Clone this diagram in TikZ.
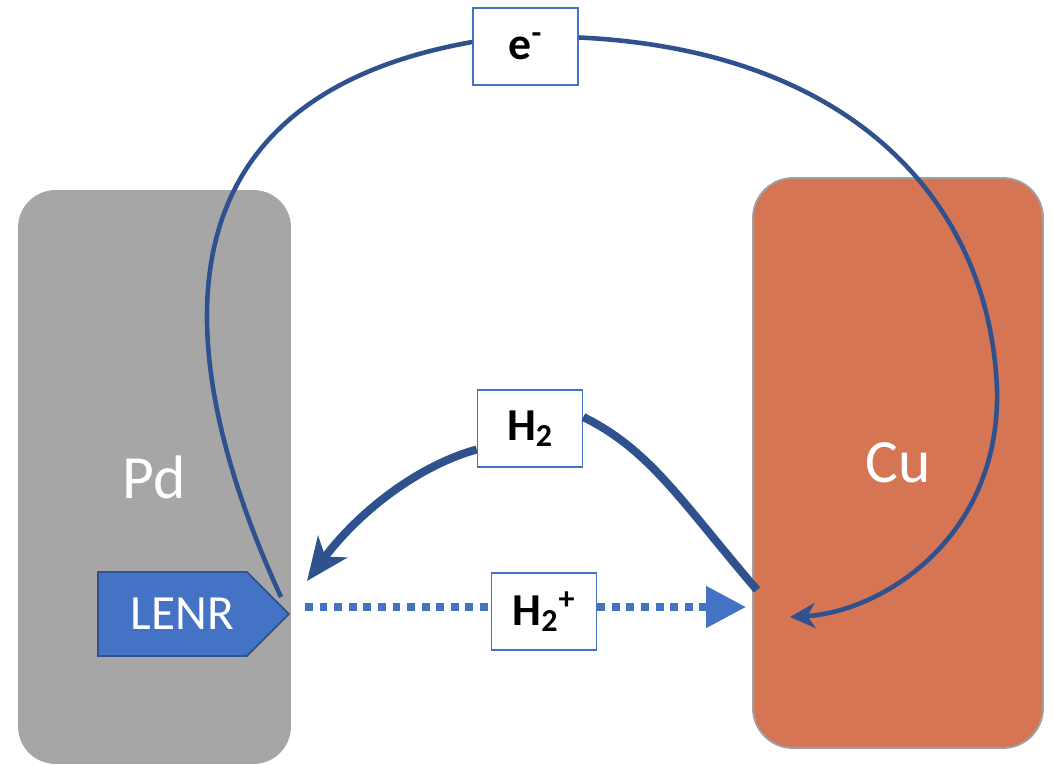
\documentclass[tikz,border=0pt]{standalone}
\usepackage{fontspec}
\setmainfont{Carlito}
\usetikzlibrary{arrows.meta,shapes.symbols}
\definecolor{pdgray}{RGB}{166,166,166}
\definecolor{cuorange}{RGB}{213,117,84}
\definecolor{cuedge}{RGB}{160,160,160}
\definecolor{lenrblue}{RGB}{68,114,196}
\definecolor{wireblue}{RGB}{47,82,143}

\begin{document}
\begin{tikzpicture}[x=0.02cm,y=-0.02cm,
  metal/.style={rounded corners=0.75cm,inner sep=0pt,text=white,
    font=\fontsize{35}{40}\selectfont},
  tag/.style={draw=lenrblue,fill=white,line width=0.9pt,inner sep=0pt,
    minimum width=2.1cm,minimum height=1.54cm,font=\bfseries\fontsize{26}{30}\selectfont},
  eline/.style={draw=wireblue,line width=2.6pt},
  hline/.style={draw=wireblue,line width=4.6pt},
  dotline/.style={draw=lenrblue,line width=4.6pt,dash pattern=on 4.5pt off 3.8pt}]
  \useasboundingbox (0,0) rectangle (1053,764);

  % metals
  \node[metal,fill=pdgray,minimum width=5.46cm,minimum height=11.48cm] (pd) at (154.5,477) {Pd};
  \node[metal,fill=cuorange,draw=cuedge,line width=1.1pt,rounded corners=0.8cm,
    minimum width=5.8cm,minimum height=11.4cm] (cu) at (898,463) {Cu};

  % LENR tag
  \node[signal,signal to=east,draw=wireblue,fill=lenrblue,line width=1pt,text=white,
    minimum width=3.82cm,minimum height=1.68cm,inner sep=0pt,anchor=west,
    font=\fontsize{28}{30}\selectfont] (lenr) at (97,614) {\hspace*{0.4cm}LENR};

  % labels
  \node[tag] (eb) at (525.5,46.5) {e\textsuperscript{-}};
  \node[tag] (h2) at (530,428.5) {H\textsubscript{2}};
  \node[tag] (h2p) at (544,611.5) {H\textsubscript{2}\textsuperscript{+}};

  \coordinate (lenrTop) at (281,597);
  \coordinate (cuIn) at (790,617);
  \coordinate (cuOut) at (757,590);
  \coordinate (pdIn) at (307,581);
  \coordinate (dotStart) at (305,607);
  \coordinate (dotEnd) at (746,607);

  % electron path
  \draw[eline] (lenrTop) .. controls (172,360) and (145,100) .. ([yshift=0.09cm]eb.west);
  \draw[eline] ([yshift=0.18cm]eb.east) .. controls (850,50) and (990,200) .. (997,390);
  \draw[eline,-{Stealth[length=0.5cm,width=0.5cm,inset=0.15cm]}]
    (997,390) .. controls (1000,540) and (880,612) .. (cuIn);

  % hydrogen path
  \draw[hline] (cuOut) .. controls (680,500) and (650,450) .. ([yshift=0.23cm]h2.east);
  \draw[hline,-{Stealth[length=0.85cm,width=0.72cm,inset=0.24cm]}]
    ([yshift=-0.42cm]h2.west) .. controls (420,465) and (360,510) .. (pdIn);

  % ion path
  \draw[dotline] (dotStart) -- (dotStart -| h2p.west);
  \draw[dotline,-{Triangle[length=0.8cm,width=0.8cm]}] (dotStart -| h2p.east) -- (dotEnd);
\end{tikzpicture}
\end{document}
